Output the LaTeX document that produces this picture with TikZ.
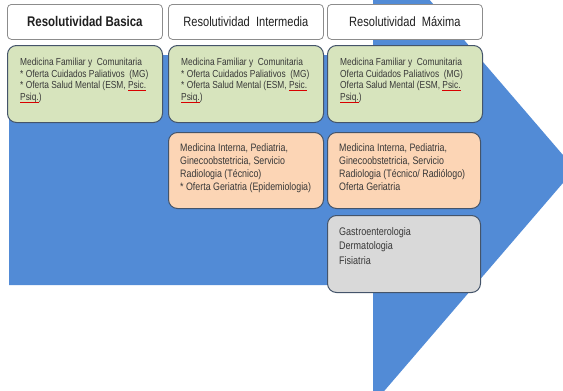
\documentclass[tikz,border=0pt]{standalone}
\usepackage{fontspec}
\setmainfont{Liberation Sans}[FakeStretch=0.82]
\definecolor{arrowblue}{HTML}{528BD6}
\definecolor{cgreen}{HTML}{D7E4BD}
\definecolor{corange}{HTML}{FCD5B5}
\definecolor{cgray}{HTML}{D9D9D9}
\definecolor{cellborder}{HTML}{44546A}
\newcommand\redul[1]{\setbox0\hbox{#1}\rlap{\color{red!85!black}\rule[-1.6pt]{\wd0}{0.6pt}}\box0}
\tikzset{
  hdr/.style={draw=black!45, fill=white, rounded corners=4pt, line width=0.8pt,
    minimum width=155pt, minimum height=35pt, inner sep=0pt, anchor=north west,
    text=black!88, font=\fontsize{13.5}{15}\selectfont},
  cell/.style={draw=cellborder, rounded corners=9pt, line width=1pt,
    minimum width=155pt, inner sep=0pt, anchor=north west},
  greenc/.style={cell, fill=cgreen, minimum height=77pt},
  orangec/.style={cell, fill=corange, minimum height=76pt},
  grayc/.style={cell, fill=cgray, minimum height=77pt},
  txt/.style={anchor=north west, align=left, inner sep=0pt, text=black!78,
    font=\fontsize{10.2}{11.7}\selectfont},
  txtb/.style={txt, font=\fontsize{10.8}{13}\selectfont},
  txtc/.style={txt, font=\fontsize{11}{14.5}\selectfont},
}
\begin{document}
\begin{tikzpicture}[x=1pt,y=-1pt]
\useasboundingbox (0,0) rectangle (563,391);
\begin{scope}
\clip (0,0) rectangle (563,391);
\fill[arrowblue] (9,55) -- (373,55) -- (373,-66) -- (575,169) -- (373,404) -- (373,285) -- (9,285) -- cycle;
\end{scope}
% headers
\node[hdr] (h1) at (7,4) {\bfseries\fontsize{14}{16}\selectfont Resolutividad Basica};
\node[hdr] (h2) at (168,4) {Resolutividad\ \ Intermedia};
\node[hdr] (h3) at (327,4) {Resolutividad\ \ Máxima};
% green row
\node[greenc] (g1) at (7,45) {};
\node[greenc] (g2) at (168,45) {};
\node[greenc] (g3) at (327,45) {};
\node[txt] (g1t) at ([shift={(13pt,-13pt)}]g1.north west) {Medicina Familiar y\ \ Comunitaria\\ * Oferta Cuidados Paliativos\ \ (MG)\\ * Oferta Salud Mental (ESM, \redul{Psic.}\\ \redul{Psiq.})};
\node[txt] (g2t) at ([shift={(13pt,-13pt)}]g2.north west) {Medicina Familiar y\ \ Comunitaria\\ * Oferta Cuidados Paliativos\ \ (MG)\\ * Oferta Salud Mental (ESM, \redul{Psic.}\\ \redul{Psiq.})};
\node[txt] (g3t) at ([shift={(13pt,-13pt)}]g3.north west) {Medicina Familiar y\ \ Comunitaria\\ Oferta Cuidados Paliativos\ \ (MG)\\ Oferta Salud Mental (ESM, \redul{Psic.}\\ \redul{Psiq.})};
% orange row
\node[orangec] (o2) at (168,132) {};
\node[orangec, minimum width=153pt] (o3) at (327,132) {};
\node[txtb] (o2t) at ([shift={(12pt,-11pt)}]o2.north west) {Medicina Interna, Pediatria,\\ Ginecoobstetricia, Servicio\\ Radiologia (Técnico)\\ * Oferta Geriatria (Epidemiologia)};
\node[txtb] (o3t) at ([shift={(12pt,-11pt)}]o3.north west) {Medicina Interna, Pediatria,\\ Ginecoobstetricia, Servicio\\ Radiologia (Técnico/ Radiólogo)\\ Oferta Geriatria};
% gray
\node[grayc, minimum width=153pt] (c3) at (327,215) {};
\node[txtc] (c3t) at ([shift={(12pt,-12pt)}]c3.north west) {Gastroenterologia\\ Dermatologia\\ Fisiatria};
\end{tikzpicture}
\end{document}
